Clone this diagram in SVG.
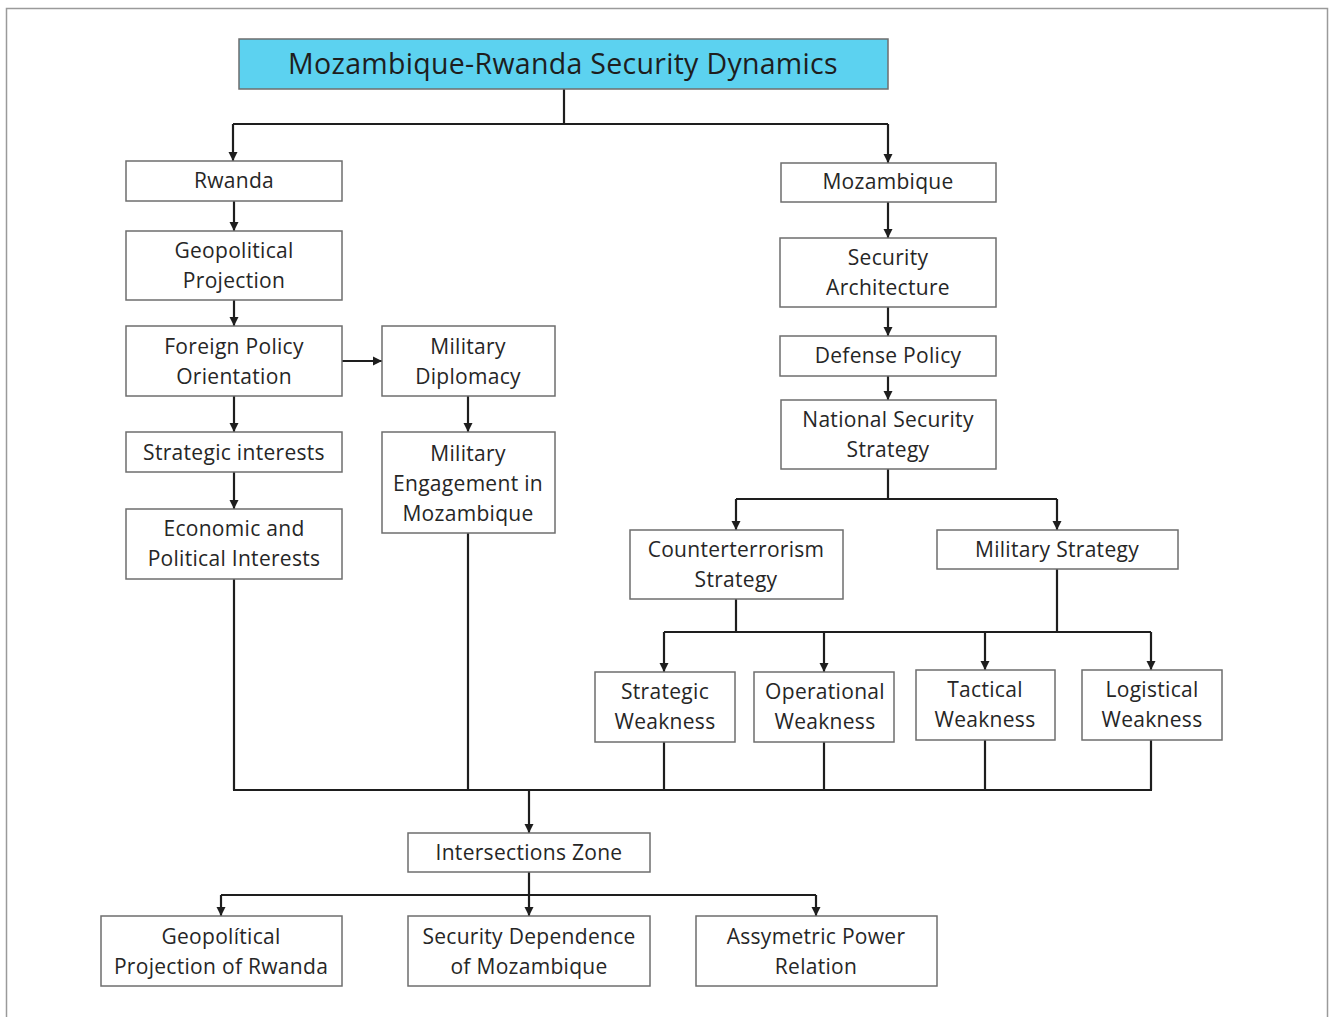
<svg xmlns="http://www.w3.org/2000/svg" width="1330" height="1017" viewBox="0 0 1330 1017">
<style>
.box{fill:#ffffff;stroke:#6e6e6e;stroke-width:1.5}
.title{fill:#5cd2f0;stroke:#6e6e6e;stroke-width:1.5}
text{font-family:"Open Sans","Liberation Sans",sans-serif;font-size:21px;fill:#262626;text-anchor:middle;letter-spacing:0.3px}
.tt{font-size:28.5px;fill:#1e1e1e}
.c{fill:none;stroke:#1e1e1e;stroke-width:2.2}
</style>
<defs>
<marker id="a" markerUnits="userSpaceOnUse" markerWidth="10" markerHeight="10" refX="9" refY="5" orient="auto">
<path d="M0,0.5 L9,5 L0,9.5 z" fill="#1e1e1e"/>
</marker>
</defs>
<rect x="6.5" y="8.5" width="1321" height="1020" fill="#ffffff" stroke="#9a9a9a" stroke-width="1.5"/>

<g id="connectors">
<path class="c" d="M564,89 V124 M233,124 H888"/>
<path class="c" d="M233,124 V161" marker-end="url(#a)"/>
<path class="c" d="M888,124 V163" marker-end="url(#a)"/>
<path class="c" d="M234,201 V231" marker-end="url(#a)"/>
<path class="c" d="M234,300 V326" marker-end="url(#a)"/>
<path class="c" d="M234,396 V432" marker-end="url(#a)"/>
<path class="c" d="M234,472 V509" marker-end="url(#a)"/>
<path class="c" d="M342,361 H382" marker-end="url(#a)"/>
<path class="c" d="M468,396 V432" marker-end="url(#a)"/>
<path class="c" d="M888,202 V238" marker-end="url(#a)"/>
<path class="c" d="M888,307 V336" marker-end="url(#a)"/>
<path class="c" d="M888,376 V400" marker-end="url(#a)"/>
<path class="c" d="M888,469 V499 M736,499 H1057"/>
<path class="c" d="M736,499 V530" marker-end="url(#a)"/>
<path class="c" d="M1057,499 V530" marker-end="url(#a)"/>
<path class="c" d="M736,599 V632 M1057,569 V632 M664,632 H1151"/>
<path class="c" d="M664,632 V672" marker-end="url(#a)"/>
<path class="c" d="M824,632 V672" marker-end="url(#a)"/>
<path class="c" d="M985,632 V670" marker-end="url(#a)"/>
<path class="c" d="M1151,632 V670" marker-end="url(#a)"/>
<path class="c" d="M234,579 V790 M468,533 V790 M664,742 V790 M824,742 V790 M985,740 V790 M1151,740 V790 M233,790 H1152"/>
<path class="c" d="M529,790 V833" marker-end="url(#a)"/>
<path class="c" d="M529,872 V895 M221,895 H816"/>
<path class="c" d="M221,895 V916" marker-end="url(#a)"/>
<path class="c" d="M529,895 V916" marker-end="url(#a)"/>
<path class="c" d="M816,895 V916" marker-end="url(#a)"/>
</g>

<g id="n-title"><rect class="title" x="239" y="39" width="649" height="50"/><text class="tt" x="563" y="74">Mozambique-Rwanda Security Dynamics</text></g>

<g id="n-rwanda"><rect class="box" x="126" y="161" width="216" height="40"/><text x="234" y="188">Rwanda</text></g>
<g id="n-geoproj"><rect class="box" x="126" y="231" width="216" height="69"/><text x="234" y="258">Geopolitical</text><text x="234" y="288">Projection</text></g>
<g id="n-foreign"><rect class="box" x="126" y="326" width="216" height="70"/><text x="234" y="354">Foreign Policy</text><text x="234" y="384">Orientation</text></g>
<g id="n-mildip"><rect class="box" x="382" y="326" width="173" height="70"/><text x="468" y="354">Military</text><text x="468" y="384">Diplomacy</text></g>
<g id="n-strint"><rect class="box" x="126" y="432" width="216" height="40"/><text x="234" y="460">Strategic interests</text></g>
<g id="n-econ"><rect class="box" x="126" y="509" width="216" height="70"/><text x="234" y="536">Economic and</text><text x="234" y="566">Political Interests</text></g>
<g id="n-mileng"><rect class="box" x="382" y="432" width="173" height="101"/><text x="468" y="461">Military</text><text x="468" y="491">Engagement in</text><text x="468" y="521">Mozambique</text></g>

<g id="n-moz"><rect class="box" x="781" y="163" width="215" height="39"/><text x="888" y="189">Mozambique</text></g>
<g id="n-secarch"><rect class="box" x="780" y="238" width="216" height="69"/><text x="888" y="265">Security</text><text x="888" y="295">Architecture</text></g>
<g id="n-defense"><rect class="box" x="780" y="336" width="216" height="40"/><text x="888" y="363">Defense Policy</text></g>
<g id="n-nss"><rect class="box" x="781" y="400" width="215" height="69"/><text x="888" y="427">National Security</text><text x="888" y="457">Strategy</text></g>
<g id="n-ct"><rect class="box" x="630" y="530" width="213" height="69"/><text x="736" y="557">Counterterrorism</text><text x="736" y="587">Strategy</text></g>
<g id="n-milstrat"><rect class="box" x="937" y="530" width="241" height="39"/><text x="1057" y="557">Military Strategy</text></g>

<g id="n-stratw"><rect class="box" x="595" y="672" width="140" height="70"/><text x="665" y="699">Strategic</text><text x="665" y="729">Weakness</text></g>
<g id="n-opw"><rect class="box" x="754" y="672" width="140" height="70"/><text x="825" y="699">Operational</text><text x="825" y="729">Weakness</text></g>
<g id="n-tacw"><rect class="box" x="916" y="670" width="139" height="70"/><text x="985" y="697">Tactical</text><text x="985" y="727">Weakness</text></g>
<g id="n-logw"><rect class="box" x="1082" y="670" width="140" height="70"/><text x="1152" y="697">Logistical</text><text x="1152" y="727">Weakness</text></g>

<g id="n-inter"><rect class="box" x="408" y="833" width="242" height="39"/><text x="529" y="860">Intersections Zone</text></g>
<g id="n-geoprojr"><rect class="box" x="101" y="916" width="241" height="70"/><text x="221" y="944">Geopolítical</text><text x="221" y="974">Projection of Rwanda</text></g>
<g id="n-secdep"><rect class="box" x="408" y="916" width="242" height="70"/><text x="529" y="944">Security Dependence</text><text x="529" y="974">of Mozambique</text></g>
<g id="n-asym"><rect class="box" x="696" y="916" width="241" height="70"/><text x="816" y="944">Assymetric Power</text><text x="816" y="974">Relation</text></g>
</svg>
